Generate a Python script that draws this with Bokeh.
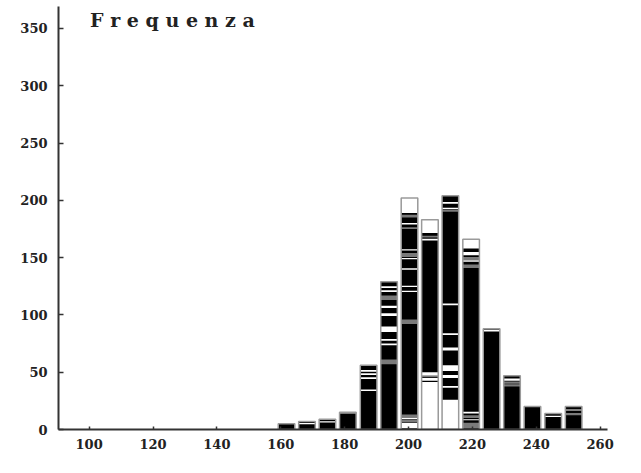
from bokeh.plotting import figure
from bokeh.models import Range1d, Label, FixedTicker, ColumnDataSource
from bokeh.embed import file_html
from bokeh.resources import INLINE

# Bin centres (x values) and counts
bin_centers = [161.8, 168.2, 174.6, 181.0, 187.5, 193.9, 200.3, 206.7,
               213.1, 219.6, 226.0, 232.4, 238.8, 245.3, 251.7]
counts = [5, 7, 9, 15, 56, 129, 202, 183, 204, 166, 88, 47, 20, 14, 20]
bin_width = 5.2

# White units/stripes inside the bars: (bar index, from, to)
white_parts = [
    (1, 4.6, 5.6), (2, 6.2, 7.2),
    (4, 50.5, 52), (4, 47.5, 49), (4, 44, 45.5), (4, 33.5, 35),
    (5, 123.5, 125), (5, 120, 121.5), (5, 106, 108), (5, 99, 101.5),
    (5, 85, 90), (5, 77.5, 79), (5, 73.5, 75),
    (6, 189, 202), (6, 179, 180.2), (6, 156.2, 157.4), (6, 148.5, 149.7),
    (6, 139.5, 140.7), (6, 124.3, 125.5), (6, 120, 121.2), (6, 9, 10.5), (6, 1, 6),
    (7, 171.5, 183), (7, 165, 166.5), (7, 47, 50), (7, 42.5, 45), (7, 0, 41.5),
    (8, 197, 198.5), (8, 192.3, 193.5), (8, 108.5, 110), (8, 82.5, 84),
    (8, 69, 71.5), (8, 51, 56), (8, 45, 47.5), (8, 36.5, 38), (8, 0, 26),
    (9, 158, 166), (9, 152, 155), (9, 146.5, 147.7), (9, 14, 15.5), (9, 8, 9),
    (10, 85.5, 87),
    (11, 42.5, 44.5),
    (13, 11, 12),
    (14, 16.5, 17.5),
]
# Grey units inside the bars: (bar index, from, to)
grey_parts = [
    (3, 13.5, 15),
    (5, 113, 117), (5, 57, 61),
    (6, 185, 187.5), (6, 175, 176.5), (6, 150.5, 154), (6, 92, 96),
    (6, 6.5, 8.5), (6, 11, 13),
    (7, 167.5, 169), (7, 45.5, 47),
    (8, 190, 191.5),
    (9, 148, 150.5), (9, 141, 144), (9, 10, 12.5), (9, 1, 6),
    (11, 40, 42), (11, 37.5, 39.5),
    (14, 12.5, 14.5),
]

x_ticks = [100, 120, 140, 160, 180, 200, 220, 240, 260]
y_ticks = [0, 50, 100, 150, 200, 250, 300, 350]
title_text = "F r e q u e n z a"

FONT = "DejaVu Serif"
AXIS_COL = "#333333"

p = figure(width=625, height=457,
           x_range=Range1d(90.4, 262.3), y_range=Range1d(0, 369.2),
           output_backend="svg", toolbar_location=None,
           min_border_left=58, min_border_right=18,
           min_border_top=6, min_border_bottom=28)
p.outline_line_color = None
p.xgrid.visible = False
p.ygrid.visible = False
p.background_fill_color = "white"
p.border_fill_color = "white"

# bars
src = ColumnDataSource(dict(x=bin_centers, top=counts))
p.vbar(x="x", top="top", bottom=0, width=bin_width, source=src,
       fill_color="black", line_color=None)


def parts_source(parts):
    left, right, bottom, top = [], [], [], []
    for i, lo, hi in parts:
        c = bin_centers[i]
        left.append(c - bin_width / 2)
        right.append(c + bin_width / 2)
        bottom.append(lo)
        top.append(hi)
    return ColumnDataSource(dict(left=left, right=right, bottom=bottom, top=top))


p.quad(left="left", right="right", bottom="bottom", top="top",
       source=parts_source(white_parts), fill_color="white", line_color=None)
p.quad(left="left", right="right", bottom="bottom", top="top",
       source=parts_source(grey_parts), fill_color="#7a7a7a", line_color=None)

# outlines of the bars
p.vbar(x="x", top="top", bottom=0, width=bin_width, source=src,
       fill_color=None, line_color="#9a9a9a", line_width=1.5)

for ax in (p.xaxis[0], p.yaxis[0]):
    ax.axis_line_color = AXIS_COL
    ax.axis_line_width = 2
    ax.major_tick_line_color = AXIS_COL
    ax.major_tick_line_width = 1.5
    ax.minor_tick_line_color = None
    ax.major_tick_out = 0
    ax.major_label_text_font = FONT
    ax.major_label_text_font_style = "bold"
    ax.major_label_text_font_size = "13px"
    ax.major_label_text_color = "#222222"

p.xaxis[0].ticker = FixedTicker(ticks=x_ticks)
p.yaxis[0].ticker = FixedTicker(ticks=y_ticks)
p.xaxis[0].major_tick_in = 3
p.yaxis[0].major_tick_in = 5
p.xaxis[0].major_label_standoff = 9
p.yaxis[0].major_label_standoff = 11

p.add_layout(Label(x=100.3, y=367.0, text=title_text, text_font=FONT,
                   text_font_style="bold", text_font_size="19px",
                   text_color="#222222", text_baseline="top", text_align="left"))

open("out.html", "w").write(file_html(p, INLINE))
